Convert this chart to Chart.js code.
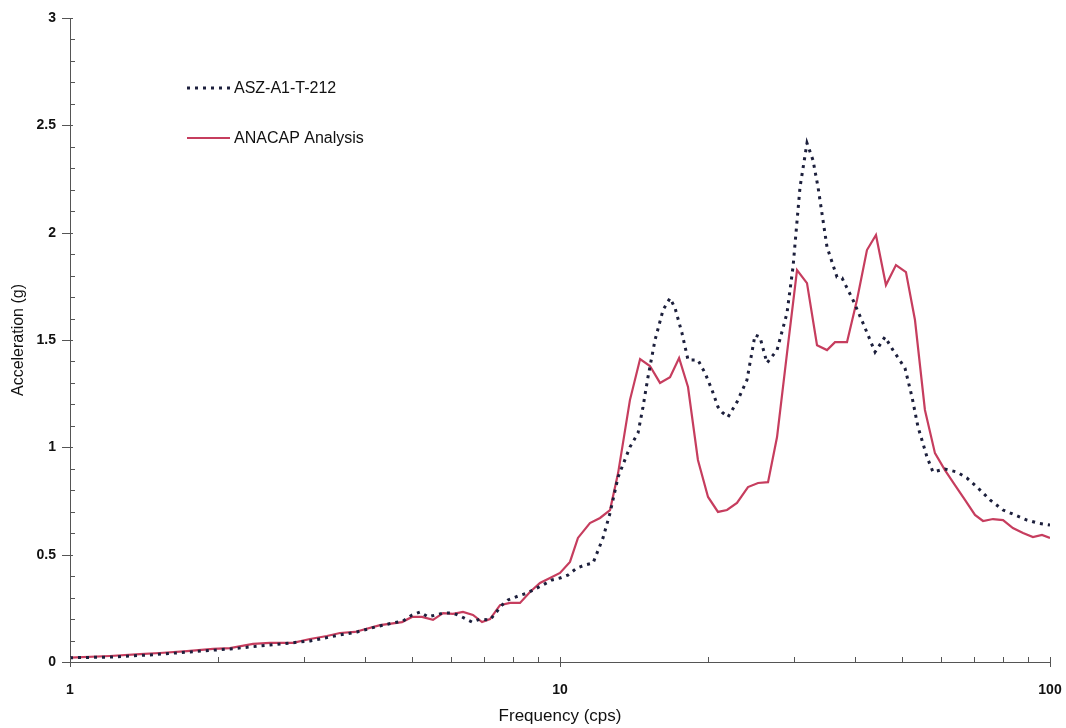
<!DOCTYPE html>
<html>
<head>
<meta charset="utf-8">
<script src="https://cdn.jsdelivr.net/npm/chart.js@4"></script>
<style>
  html, body { margin: 0; padding: 0; background: #fff; }
  #wrap { width: 1066px; height: 728px; }
</style>
</head>
<body>
<div id="wrap"><canvas id="accChart" width="1066" height="728"></canvas></div>
<script>
// test record ASZ-A1-T-212 (dotted)
const testFreq = [1, 1.207, 1.456, 1.758, 2.121, 2.56, 3.089, 3.556, 3.852, 4.193, 4.563, 4.782, 4.989, 5.179, 5.378,
  5.771, 6.048, 6.31, 6.613, 6.867, 7.197, 7.614, 7.832, 8.208, 8.565, 8.89, 9.23, 9.63, 10, 10.38, 10.83, 11.25, 11.68,
  12.24, 12.65, 13.14, 13.89, 14.43, 14.77, 15.12, 15.63, 16.23, 16.77, 17.17, 17.74, 18.25, 19.12, 19.77, 20.43, 21.01,
  21.41, 22.02, 22.97, 24.07, 25.0, 25.59, 26.45, 27.73, 29.06, 29.89, 30.89, 31.92, 32.83, 33.62, 35.07, 36.76, 37.63,
  39.63, 41.53, 43.95, 46.05, 47.82, 50.59, 52.29, 53.78, 56.1, 57.7, 61.04, 64.59, 67.69, 70.96, 75.44, 80.2, 84.83,
  89.78, 94.5, 100];
const testAccel = [0.02, 0.023, 0.033, 0.047, 0.061, 0.079, 0.098, 0.126, 0.14, 0.163, 0.182, 0.191, 0.219, 0.233, 0.21,
  0.228, 0.228, 0.21, 0.186, 0.2, 0.196, 0.265, 0.289, 0.307, 0.321, 0.34, 0.359, 0.382, 0.391, 0.405, 0.438, 0.452, 0.461,
  0.578, 0.694, 0.862, 1.001, 1.067, 1.188, 1.327, 1.5, 1.64, 1.695, 1.649, 1.532, 1.407, 1.407, 1.346, 1.267, 1.188,
  1.164, 1.141, 1.211, 1.313, 1.523, 1.514, 1.393, 1.453, 1.626, 1.84, 2.212, 2.417, 2.338, 2.212, 1.933, 1.793, 1.789,
  1.686, 1.579, 1.444, 1.514, 1.453, 1.369, 1.234, 1.095, 0.955, 0.885, 0.899, 0.885, 0.857, 0.815, 0.755, 0.708, 0.685,
  0.661, 0.647, 0.638];

// ANACAP analysis (solid red)
const anaFreq = [1, 1.207, 1.389, 1.526, 1.733, 1.958, 2.121, 2.363, 2.56, 2.852, 3.089, 3.345, 3.556, 3.815, 4.293, 4.76,
  4.989, 5.228, 5.506, 5.771, 6.048, 6.339, 6.644, 6.932, 7.197, 7.543, 7.906, 8.286, 8.685, 9.102, 9.541, 10, 10.48,
  10.88, 11.51, 12.07, 12.65, 13.14, 13.89, 14.57, 15.26, 16.0, 16.77, 17.5, 18.25, 19.12, 20.05, 21.01, 21.92, 22.97,
  24.19, 25.36, 26.58, 27.73, 29.06, 30.46, 31.92, 33.46, 35.07, 36.41, 38.52, 40.37, 42.31, 44.14, 46.26, 48.49, 50.82,
  53.02, 55.56, 58.24, 61.04, 63.98, 67.06, 70.29, 73.0, 76.5, 80.2, 84.0, 88.1, 92.3, 96.3, 100];
const anaAccel = [0.02, 0.028, 0.037, 0.042, 0.051, 0.061, 0.065, 0.084, 0.089, 0.089, 0.107, 0.121, 0.135, 0.14, 0.172,
  0.186, 0.21, 0.21, 0.196, 0.228, 0.224, 0.233, 0.219, 0.186, 0.2, 0.265, 0.275, 0.275, 0.326, 0.368, 0.391, 0.415,
  0.466, 0.578, 0.647, 0.671, 0.708, 0.88, 1.22, 1.411, 1.379, 1.3, 1.327, 1.416, 1.281, 0.941, 0.769, 0.699, 0.708,
  0.741, 0.815, 0.834, 0.838, 1.048, 1.439, 1.826, 1.765, 1.476, 1.453, 1.49, 1.49, 1.686, 1.919, 1.989, 1.756, 1.849,
  1.816, 1.593, 1.174, 0.973, 0.894, 0.824, 0.755, 0.685, 0.657, 0.666, 0.661, 0.624, 0.601, 0.582, 0.592, 0.578];

const xMajor = [1, 10, 100];
const xMinor = [2, 3, 4, 5, 6, 7, 8, 9, 20, 30, 40, 50, 60, 70, 80, 90];
const yMajor = [0, 0.5, 1, 1.5, 2, 2.5, 3];

const legendItems = [
  { label: "ASZ-A1-T-212", color: "#1c1f3c", dash: [3, 5], width: 3 },
  { label: "ANACAP Analysis", color: "#c63d5e", dash: [], width: 2 }
];

function pts(xs, ys) {
  return xs.map((x, i) => ({ x: x, y: ys[i] }));
}

// axis tick marks drawn like the original (minor ticks point inward)
const tickMarks = {
  id: "tickMarks",
  afterDraw(chart) {
    const ctx = chart.ctx;
    const xs = chart.scales.x, ys = chart.scales.y;
    const area = chart.chartArea;
    ctx.save();
    ctx.strokeStyle = "#555";
    ctx.lineWidth = 1;
    ctx.beginPath();
    xMajor.forEach(v => {
      const px = Math.round(xs.getPixelForValue(v)) + 0.5;
      ctx.moveTo(px, area.bottom - 5);
      ctx.lineTo(px, area.bottom + 5);
    });
    xMinor.forEach(v => {
      const px = Math.round(xs.getPixelForValue(v)) + 0.5;
      ctx.moveTo(px, area.bottom - 5);
      ctx.lineTo(px, area.bottom);
    });
    for (let i = 0; i <= 30; i++) {
      const v = i / 10;
      const py = Math.round(ys.getPixelForValue(v)) + 0.5;
      if (i % 5 === 0) {
        ctx.moveTo(area.left - 8, py);
        ctx.lineTo(area.left + 3, py);
      } else {
        ctx.moveTo(area.left, py);
        ctx.lineTo(area.left + 5, py);
      }
    }
    ctx.stroke();
    ctx.restore();
  }
};

// legend sitting inside the plot, top left
const innerLegend = {
  id: "innerLegend",
  afterDraw(chart) {
    const ctx = chart.ctx;
    ctx.save();
    ctx.font = "16px 'Liberation Sans', Arial, sans-serif";
    ctx.textBaseline = "middle";
    legendItems.forEach((it, i) => {
      const y = 88 + i * 50;
      ctx.strokeStyle = it.color;
      ctx.lineWidth = it.width;
      ctx.setLineDash(it.dash);
      ctx.beginPath();
      ctx.moveTo(187, y);
      ctx.lineTo(230, y);
      ctx.stroke();
      ctx.setLineDash([]);
      ctx.fillStyle = "#111";
      ctx.fillText(it.label, 234, y + 1);
    });
    ctx.restore();
  }
};

new Chart(document.getElementById("accChart"), {
  type: "line",
  data: {
    datasets: [
      {
        label: legendItems[0].label,
        data: pts(testFreq, testAccel),
        borderColor: legendItems[0].color,
        borderWidth: 3,
        borderDash: [3, 5],
        pointRadius: 0,
        tension: 0,
        fill: false
      },
      {
        label: legendItems[1].label,
        data: pts(anaFreq, anaAccel),
        borderColor: legendItems[1].color,
        borderWidth: 2.2,
        pointRadius: 0,
        tension: 0,
        fill: false
      }
    ]
  },
  options: {
    responsive: false,
    animation: false,
    layout: { padding: { top: 18, right: 16, left: 0, bottom: 0 } },
    plugins: {
      legend: { display: false },
      tooltip: { enabled: false }
    },
    scales: {
      x: {
        type: "logarithmic",
        min: 1,
        max: 100,
        afterFit: s => { s.height = 66; s.paddingLeft = 0; s.paddingRight = 0; },
        grid: { display: false },
        border: { display: true, color: "#555", width: 1 },
        ticks: {
          autoSkip: false,
          maxRotation: 0,
          padding: 12,
          color: "#111",
          font: { family: "'Liberation Sans', Arial, sans-serif", size: 14, weight: "bold" },
          callback: v => (xMajor.includes(v) ? String(v) : "")
        },
        title: {
          display: true,
          text: "Frequency (cps)",
          color: "#111",
          padding: { top: 0, bottom: 1 },
          font: { family: "'Liberation Sans', Arial, sans-serif", size: 17 }
        }
      },
      y: {
        min: 0,
        max: 3,
        afterFit: s => { s.width = 70; s.paddingTop = 0; s.paddingBottom = 0; },
        grid: { display: false },
        border: { display: true, color: "#555", width: 1 },
        ticks: {
          stepSize: 0.5,
          padding: 6,
          color: "#111",
          font: { family: "'Liberation Sans', Arial, sans-serif", size: 14, weight: "bold" },
          callback: v => (yMajor.includes(v) ? String(v) : "")
        },
        title: {
          display: true,
          text: "Acceleration (g)",
          color: "#111",
          padding: { top: 9, bottom: 0 },
          font: { family: "'Liberation Sans', Arial, sans-serif", size: 16 }
        }
      }
    }
  },
  plugins: [tickMarks, innerLegend]
});
</script>
</body>
</html>
